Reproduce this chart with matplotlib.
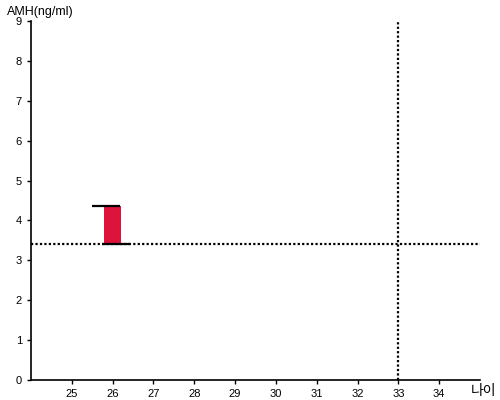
import matplotlib
matplotlib.use("Agg")
from matplotlib import pyplot as plt

plt.rcParams["font.family"] = ["Liberation Sans", "Noto Sans CJK KR", "DejaVu Sans"]

# data
ages = [26]
amh_low = [3.4]
amh_high = [4.36]
ref_amh = 3.4
ref_age = 33
x_ticks = [25, 26, 27, 28, 29, 30, 31, 32, 33, 34]
y_ticks = [0, 1, 2, 3, 4, 5, 6, 7, 8, 9]

fig = plt.figure(figsize=(5, 4), dpi=100)
ax = fig.add_axes([0.062, 0.05, 0.898, 0.8975])

for a, lo, hi in zip(ages, amh_low, amh_high):
    ax.bar(a, hi - lo, bottom=lo, width=0.4, color="#DC143C", zorder=2)
    ax.plot([a - 0.5, a + 0.18], [hi, hi], color="black", lw=1.6, solid_capstyle="butt", zorder=3)
    ax.plot([a - 0.26, a + 0.43], [lo, lo], color="black", lw=1.6, solid_capstyle="butt", zorder=3)

ax.axhline(ref_amh, color="black", lw=1.6, linestyle=(0, (1, 1)), zorder=1)
ax.axvline(ref_age, color="black", lw=1.6, linestyle=(0, (1, 1)), zorder=1)

ax.set_xlim(24, 35)
ax.set_ylim(0, 9)
ax.set_xticks(x_ticks)
ax.set_yticks(y_ticks)
ax.tick_params(labelsize=8, length=3, width=1, colors="black")
for s in ["top", "right"]:
    ax.spines[s].set_visible(False)
for s in ["left", "bottom"]:
    ax.spines[s].set_linewidth(1.2)

fig.text(0.014, 0.97, "AMH(ng/ml)", fontsize=9, ha="left", va="center")
fig.text(0.942, 0.023, "나이", fontsize=10, ha="left", va="center",
         family=["Noto Sans CJK KR", "DejaVu Sans"])

fig.savefig("out.png", dpi=100)
